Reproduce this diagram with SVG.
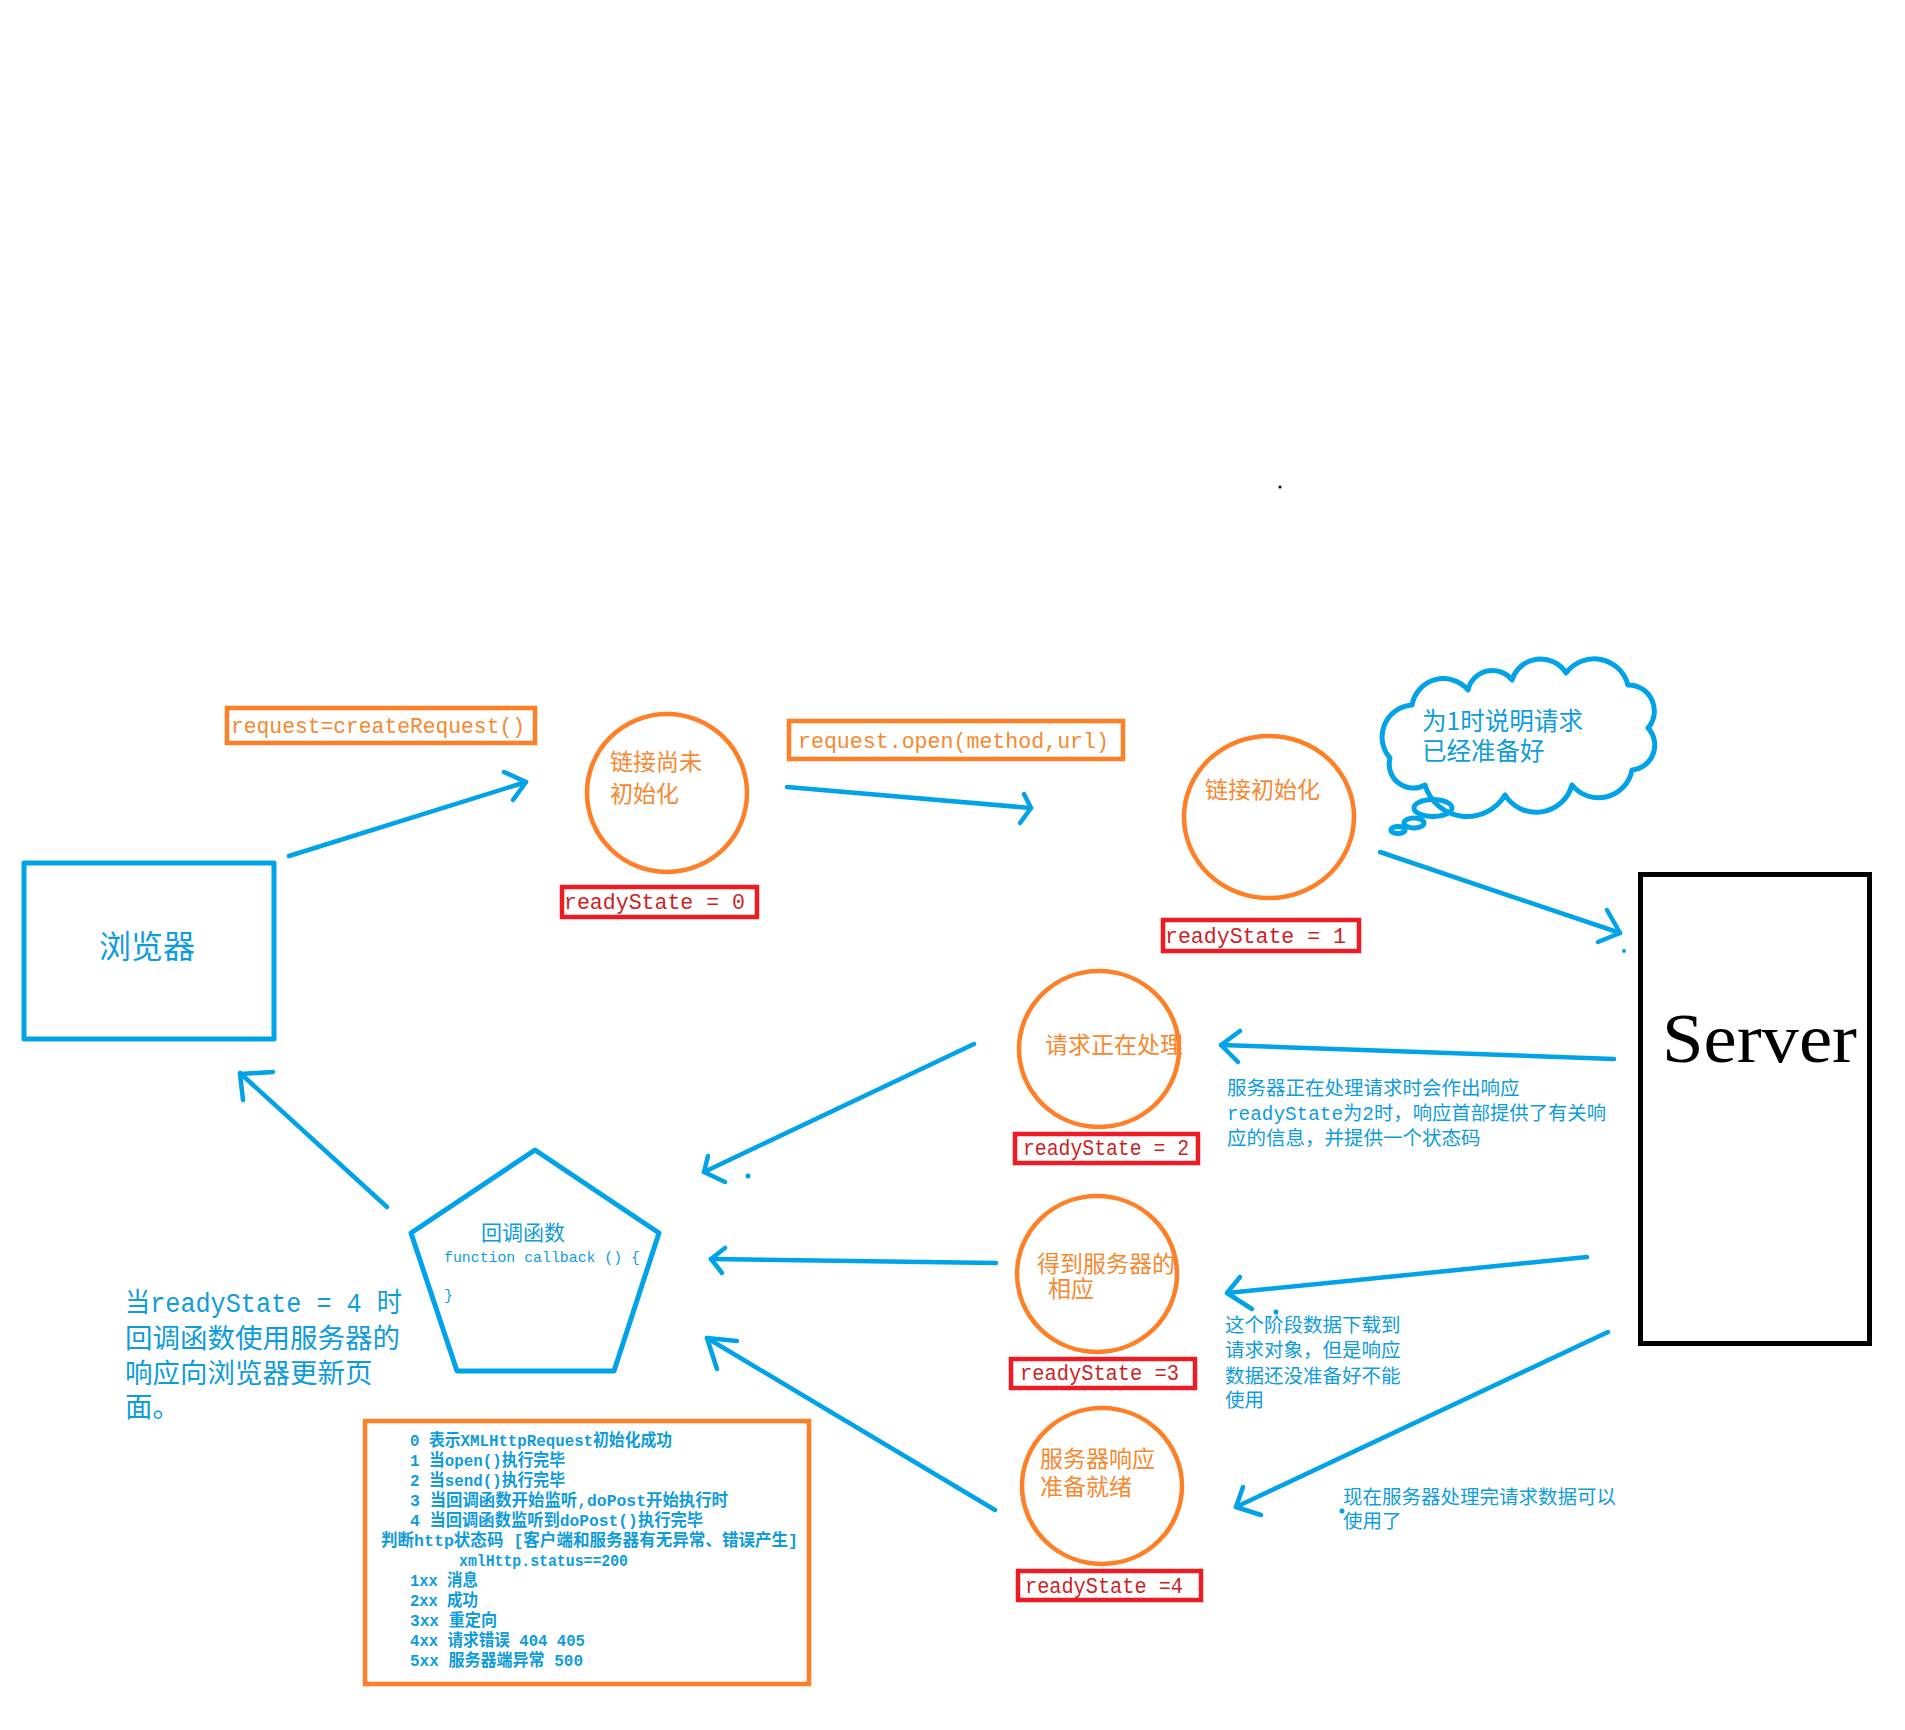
<svg xmlns="http://www.w3.org/2000/svg" width="1905" height="1730" viewBox="0 0 1905 1730">
<style>
.bl{fill:none;stroke:#00A2E8;stroke-width:5;stroke-linecap:round;stroke-linejoin:round}
.ar{fill:none;stroke:#00A2E8;stroke-width:4.5;stroke-linecap:round;stroke-linejoin:round}
.or{fill:none;stroke:#FF7F27;stroke-width:4.5}
.rd{fill:none;stroke:#ED1C24;stroke-width:4.5}
.cj{font-family:"Noto Sans CJK SC","Noto Sans",sans-serif}
.mx{font-family:"Liberation Mono","Noto Sans CJK SC",monospace}
.ot{fill:#F7882F;font-size:23px}
.bt{fill:#0E9CDD}
.rt{fill:#CC1F26;font-family:"Liberation Mono",monospace;font-size:22px}
.ct{fill:#F7882F;font-family:"Liberation Mono",monospace;font-size:22px}
</style>
<rect width="1905" height="1730" fill="#ffffff"/>
<circle cx="1280" cy="487" r="1.5" fill="#000"/>

<g id="connectors">
  <line class="ar" x1="289" y1="856" x2="526" y2="782"/>
  <polyline class="ar" points="504,772 526,782 513,800"/>
  <line class="ar" x1="787" y1="787" x2="1031" y2="808"/>
  <polyline class="ar" points="1024,794 1031,808 1020,823"/>
  <line class="ar" x1="1380" y1="852" x2="1620" y2="933"/>
  <polyline class="ar" points="1607,910 1620,933 1598,942"/>
  <circle cx="1624" cy="951" r="2" fill="#00A2E8"/>
  <line class="ar" x1="1614" y1="1059" x2="1221" y2="1045"/>
  <polyline class="ar" points="1240,1031 1221,1045 1238,1062"/>
  <line class="ar" x1="1587" y1="1257" x2="1227" y2="1293"/>
  <polyline class="ar" points="1240,1277 1227,1293 1252,1309"/>
  <circle cx="1276" cy="1312" r="2.5" fill="#00A2E8"/>
  <line class="ar" x1="1608" y1="1332" x2="1236" y2="1507"/>
  <polyline class="ar" points="1243,1487 1236,1507 1261,1515"/>
  <circle cx="1342" cy="1511" r="2.5" fill="#00A2E8"/>
  <line class="ar" x1="974" y1="1044" x2="704" y2="1172"/>
  <polyline class="ar" points="708,1156 704,1172 725,1182"/>
  <circle cx="748" cy="1176" r="2.5" fill="#00A2E8"/>
  <line class="ar" x1="996" y1="1263" x2="711" y2="1259"/>
  <polyline class="ar" points="725,1248 711,1259 722,1273"/>
  <line class="ar" x1="995" y1="1510" x2="707" y2="1338"/>
  <polyline class="ar" points="737,1341 707,1338 717,1369"/>
  <line class="ar" x1="387" y1="1207" x2="240" y2="1073"/>
  <polyline class="ar" points="273,1072 240,1074 243,1100"/>
</g>

<g id="browser">
  <rect x="24" y="863" width="250" height="176" class="bl"/>
  <text x="99" y="958" class="cj bt" font-size="32">浏览器</text>
</g>

<g id="label-create">
  <rect x="227" y="708" width="308" height="35" class="or"/>
  <text x="231" y="733" class="ct" textLength="294" lengthAdjust="spacingAndGlyphs">request=createRequest()</text>
</g>

<g id="state0">
  <ellipse cx="667" cy="793" rx="80" ry="79" class="or" stroke-width="4"/>
  <text x="610" y="770" class="cj ot" font-size="24.5">链接尚未</text>
  <text x="610" y="802" class="cj ot" font-size="24.5">初始化</text>
  <rect x="562" y="887" width="195" height="30" class="rd"/>
  <text x="564" y="909" class="rt" textLength="181" lengthAdjust="spacingAndGlyphs">readyState = 0</text>
</g>

<g id="label-open">
  <rect x="789" y="721" width="334" height="38" class="or"/>
  <text x="798" y="748" class="ct" textLength="311" lengthAdjust="spacingAndGlyphs">request.open(method,url)</text>
</g>

<g id="state1">
  <ellipse cx="1269" cy="817" rx="85" ry="81" class="or" stroke-width="4"/>
  <text x="1205" y="798" class="cj ot" font-size="25">链接初始化</text>
  <rect x="1163" y="920" width="196" height="31" class="rd"/>
  <text x="1165" y="943" class="rt" textLength="181" lengthAdjust="spacingAndGlyphs">readyState = 1</text>
</g>

<g id="cloud">
  <path class="bl" d="M1390,758 A32,32 0 0 1 1412,705 A32,32 0 0 1 1468,690 A25,25 0 0 1 1512,680 A30,30 0 0 1 1566,673 A35,35 0 0 1 1628,685 A26,26 0 0 1 1648,728 A25,25 0 0 1 1632,770 A34,34 0 0 1 1572,785 A37,37 0 0 1 1505,795 A44,44 0 0 1 1425,785 A24,24 0 0 1 1390,758 Z"/>
  <ellipse cx="1433" cy="808" rx="19" ry="8.5" class="bl" stroke-width="4"/>
  <ellipse cx="1414" cy="823" rx="10" ry="5" class="bl" stroke-width="4"/>
  <ellipse cx="1398" cy="830" rx="7" ry="3.5" class="bl" stroke-width="4"/>
  <text x="1422" y="730" class="cj bt" font-size="24.5" textLength="161" lengthAdjust="spacingAndGlyphs">为1时说明请求</text>
  <text x="1422" y="760" class="cj bt" font-size="24.5">已经准备好</text>
</g>

<g id="server">
  <rect x="1640.5" y="874.5" width="229" height="469" fill="none" stroke="#000" stroke-width="5"/>
  <text x="1662" y="1062" font-family="'Liberation Serif',serif" font-size="70" fill="#000" textLength="195" lengthAdjust="spacingAndGlyphs">Server</text>
</g>

<g id="state2">
  <ellipse cx="1099" cy="1049" rx="80" ry="78" class="or" stroke-width="4"/>
  <text x="1045" y="1053" class="cj ot" font-size="21.5">请求正在处理</text>
  <rect x="1015" y="1134" width="183" height="29" class="rd"/>
  <text x="1023" y="1155" class="rt" font-size="20" textLength="166" lengthAdjust="spacingAndGlyphs">readyState = 2</text>
</g>

<g id="note2">
  <text x="1227" y="1095" class="cj bt" font-size="19.5">服务器正在处理请求时会作出响应</text>
  <text x="1227" y="1120" class="mx bt" font-size="19.5" textLength="379" lengthAdjust="spacingAndGlyphs">readyState为2时，响应首部提供了有关响</text>
  <text x="1227" y="1145" class="cj bt" font-size="19.5">应的信息，并提供一个状态码</text>
</g>

<g id="state3">
  <ellipse cx="1097" cy="1274" rx="80" ry="78" class="or" stroke-width="4"/>
  <text x="1037" y="1272" class="cj ot" font-size="21.5">得到服务器的</text>
  <text x="1048" y="1297" class="cj ot" font-size="21.5">相应</text>
  <rect x="1011" y="1359" width="184" height="29" class="rd"/>
  <text x="1020" y="1380" class="rt" font-size="20" textLength="159" lengthAdjust="spacingAndGlyphs">readyState =3</text>
</g>

<g id="note3">
  <text x="1225" y="1332" class="cj bt" font-size="19.5">这个阶段数据下载到</text>
  <text x="1225" y="1357" class="cj bt" font-size="19.5">请求对象，但是响应</text>
  <text x="1225" y="1383" class="cj bt" font-size="19.5">数据还没准备好不能</text>
  <text x="1225" y="1407" class="cj bt" font-size="19.5">使用</text>
</g>

<g id="state4">
  <ellipse cx="1102" cy="1486" rx="80" ry="78" class="or" stroke-width="4"/>
  <text x="1040" y="1467" class="cj ot" font-size="21.5">服务器响应</text>
  <text x="1040" y="1495" class="cj ot" font-size="21.5">准备就绪</text>
  <rect x="1018" y="1571" width="183" height="29" class="rd"/>
  <text x="1025" y="1593" class="rt" font-size="20" textLength="158" lengthAdjust="spacingAndGlyphs">readyState =4</text>
</g>

<g id="note4">
  <text x="1343" y="1504" class="cj bt" font-size="19.5">现在服务器处理完请求数据可以</text>
  <text x="1343" y="1528" class="cj bt" font-size="19.5">使用了</text>
</g>

<g id="callback">
  <polygon class="bl" points="535,1150 659,1233 614,1371 457,1371 411,1233"/>
  <text x="481" y="1240" class="cj bt" font-size="21">回调函数</text>
  <text x="444" y="1262" class="bt" font-family="'Liberation Mono',monospace" font-size="15" textLength="196" lengthAdjust="spacingAndGlyphs">function callback () {</text>
  <text x="444" y="1300" class="bt" font-family="'Liberation Mono',monospace" font-size="15">}</text>
</g>

<g id="note-callback">
  <text x="125" y="1312" class="mx bt" font-size="27" textLength="277" lengthAdjust="spacingAndGlyphs">当readyState = 4 时</text>
  <text x="125" y="1348" class="cj bt" font-size="27.5">回调函数使用服务器的</text>
  <text x="125" y="1383" class="cj bt" font-size="27.5">响应向浏览器更新页</text>
  <text x="125" y="1417" class="cj bt" font-size="27.5">面。</text>
</g>

<g id="legend">
  <rect x="365" y="1421" width="444" height="263" class="or" stroke-width="5"/>
  <g class="mx bt" font-size="16.5" font-weight="bold">
    <text x="410" y="1446" textLength="262" lengthAdjust="spacingAndGlyphs">0 表示XMLHttpRequest初始化成功</text>
    <text x="410" y="1466" textLength="155" lengthAdjust="spacingAndGlyphs">1 当open()执行完毕</text>
    <text x="410" y="1486" textLength="155" lengthAdjust="spacingAndGlyphs">2 当send()执行完毕</text>
    <text x="410" y="1506" textLength="318" lengthAdjust="spacingAndGlyphs">3 当回调函数开始监听,doPost开始执行时</text>
    <text x="410" y="1526" textLength="293" lengthAdjust="spacingAndGlyphs">4 当回调函数监听到doPost()执行完毕</text>
    <text x="381" y="1546" textLength="417" lengthAdjust="spacingAndGlyphs">判断http状态码 [客户端和服务器有无异常、错误产生]</text>
    <text x="459" y="1566" textLength="169" lengthAdjust="spacingAndGlyphs">xmlHttp.status==200</text>
    <text x="410" y="1586" textLength="68" lengthAdjust="spacingAndGlyphs">1xx 消息</text>
    <text x="410" y="1606" textLength="68" lengthAdjust="spacingAndGlyphs">2xx 成功</text>
    <text x="410" y="1626" textLength="87" lengthAdjust="spacingAndGlyphs">3xx 重定向</text>
    <text x="410" y="1646" textLength="175" lengthAdjust="spacingAndGlyphs">4xx 请求错误 404 405</text>
    <text x="410" y="1666" textLength="173" lengthAdjust="spacingAndGlyphs">5xx 服务器端异常 500</text>
  </g>
</g>
</svg>
